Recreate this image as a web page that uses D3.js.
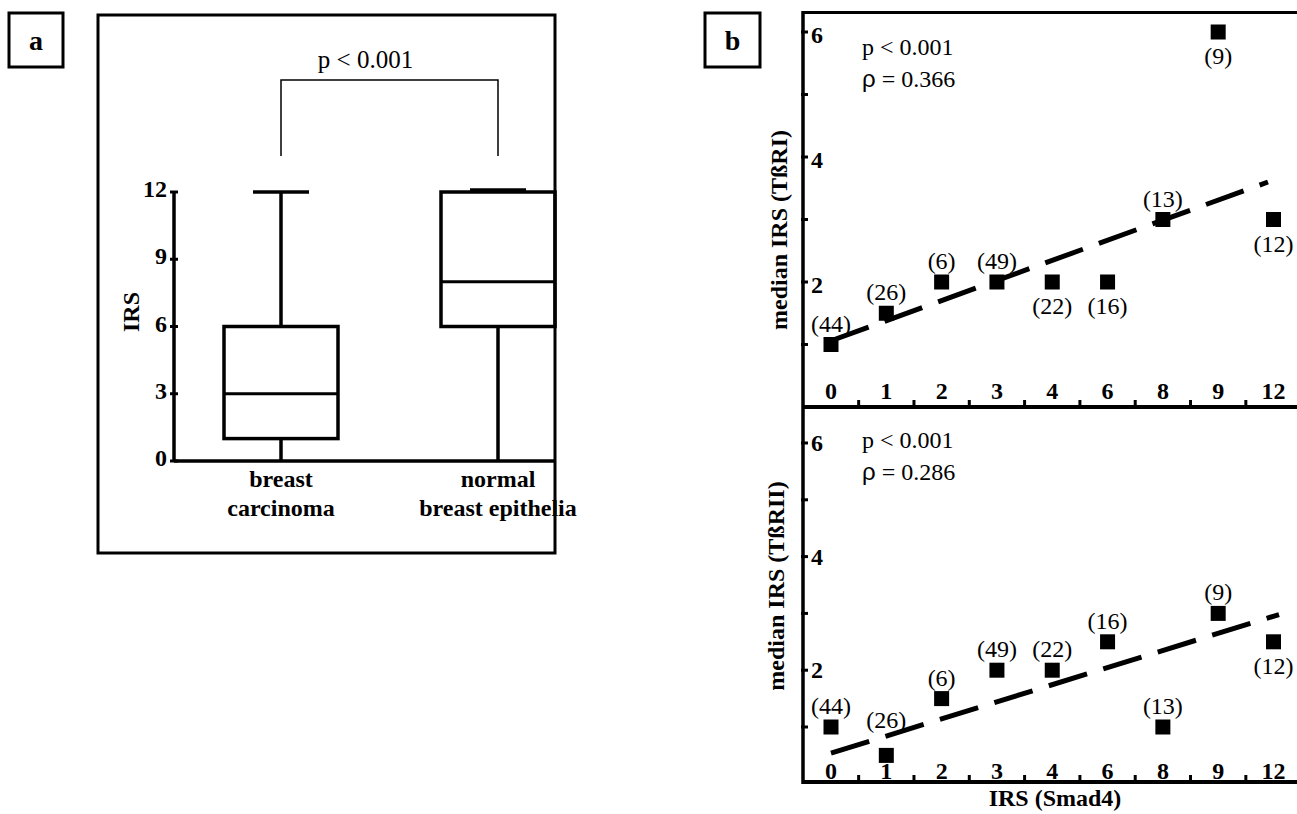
<!DOCTYPE html>
<html>
<head>
<meta charset="utf-8">
<script src="https://cdn.jsdelivr.net/npm/d3@7"></script>
<style>
  body { margin: 0; background: #fff; }
  svg text { font-family: "Liberation Serif", "Times New Roman", serif; fill: #000; }
</style>
</head>
<body>
<div id="chart"></div>
<script>
// panel a: box plot of IRS
const groups = ["breast carcinoma", "normal breast epithelia"];
const groupLines = [["breast", "carcinoma"], ["normal", "breast epithelia"]];
const boxMin = [0, 0];
const boxQ1 = [1, 6];
const boxMedian = [3, 8];
const boxQ3 = [6, 12];
const boxMax = [12, 12];
const irsTicks = [0, 3, 6, 9, 12];

// panel b: median IRS of TBRI / TBRII by Smad4 IRS
const smadLevels = ["0", "1", "2", "3", "4", "6", "8", "9", "12"];
const caseCounts = [44, 26, 6, 49, 22, 16, 13, 9, 12];
const tbr1Median = [1, 1.5, 2, 2, 2, 2, 3, 6, 3];
const tbr2Median = [1, 0.5, 1.5, 2, 2, 2.5, 1, 3, 2.5];
const tbr1LabelSide = ["above", "above", "above", "above", "below", "below", "above", "below", "below"];
const tbr2LabelSide = ["above", "high", "above", "above", "above", "above", "above", "above", "below"];
// regression lines, x in category index units
const tbr1Fit = [[0, 1.06], [7.9, 3.6]];
const tbr2Fit = [[0, 0.54], [8.1, 2.98]];
const medianTicks = [1, 2, 3, 4, 5, 6];
const medianTickLabels = [2, 4, 6];

const W = 1297, H = 814;
const svg = d3.select("#chart").append("svg")
    .attr("width", W)
    .attr("height", H);

function labelBox(x, y, w, h, txt) {
    svg.append("rect")
        .attr("x", x).attr("y", y).attr("width", w).attr("height", h)
        .attr("fill", "none").attr("stroke", "#000").attr("stroke-width", 3);
    svg.append("text")
        .attr("x", x + w / 2).attr("y", y + h / 2 + 10)
        .attr("text-anchor", "middle")
        .attr("font-size", 28).attr("font-weight", "bold")
        .text(txt);
}

// ---------- panel a ----------
labelBox(9, 13, 54, 54, "a");

svg.append("rect")
    .attr("x", 98).attr("y", 15).attr("width", 457).attr("height", 538)
    .attr("fill", "none").attr("stroke", "#000").attr("stroke-width", 3);

const ya = d3.scaleLinear().domain([0, 12]).range([461, 192]);
const xa = d3.scalePoint().domain(groups).range([281, 498]);
const halfBox = 57, halfCap = 28;

const gA = svg.append("g");

// y axis
gA.append("line")
    .attr("x1", 174).attr("x2", 174)
    .attr("y1", ya(12)).attr("y2", ya(0))
    .attr("stroke", "#000").attr("stroke-width", 3.5);
gA.selectAll(".ytick").data(irsTicks).enter().append("line")
    .attr("x1", 170).attr("x2", 178)
    .attr("y1", d => ya(d)).attr("y2", d => ya(d))
    .attr("stroke", "#000").attr("stroke-width", 3);
gA.selectAll(".ylab").data(irsTicks).enter().append("text")
    .attr("x", 167).attr("y", d => ya(d) + 5)
    .attr("text-anchor", "end")
    .attr("font-size", 24).attr("font-weight", "bold")
    .text(d => d);
// x axis line
gA.append("line")
    .attr("x1", 174).attr("x2", 555)
    .attr("y1", ya(0)).attr("y2", ya(0))
    .attr("stroke", "#000").attr("stroke-width", 3.5);

gA.append("text")
    .attr("transform", `translate(139,312) rotate(-90)`)
    .attr("text-anchor", "middle")
    .attr("font-size", 24).attr("font-weight", "bold")
    .text("IRS");

const boxes = gA.selectAll(".box").data(groups).enter().append("g");
boxes.append("line")
    .attr("x1", d => xa(d)).attr("x2", d => xa(d))
    .attr("y1", (d, i) => ya(boxMax[i])).attr("y2", (d, i) => ya(boxQ3[i]))
    .attr("stroke", "#000").attr("stroke-width", 3.5);
boxes.append("line")
    .attr("x1", d => xa(d)).attr("x2", d => xa(d))
    .attr("y1", (d, i) => ya(boxQ1[i])).attr("y2", (d, i) => ya(boxMin[i]))
    .attr("stroke", "#000").attr("stroke-width", 3.5);
boxes.append("rect")
    .attr("x", d => xa(d) - halfBox)
    .attr("y", (d, i) => ya(boxQ3[i]))
    .attr("width", halfBox * 2)
    .attr("height", (d, i) => ya(boxQ1[i]) - ya(boxQ3[i]))
    .attr("fill", "none").attr("stroke", "#000").attr("stroke-width", 3.5);
boxes.append("line")
    .attr("x1", d => xa(d) - halfBox).attr("x2", d => xa(d) + halfBox)
    .attr("y1", (d, i) => ya(boxMedian[i])).attr("y2", (d, i) => ya(boxMedian[i]))
    .attr("stroke", "#000").attr("stroke-width", 3);
boxes.append("line")
    .attr("x1", d => xa(d) - halfCap).attr("x2", d => xa(d) + halfCap)
    .attr("y1", (d, i) => ya(boxMax[i]) - (boxMax[i] === boxQ3[i] ? 2 : 0))
    .attr("y2", (d, i) => ya(boxMax[i]) - (boxMax[i] === boxQ3[i] ? 2 : 0))
    .attr("stroke", "#000").attr("stroke-width", 3.5);
boxes.append("line")
    .attr("x1", d => xa(d) - halfCap).attr("x2", d => xa(d) + halfCap)
    .attr("y1", (d, i) => ya(boxMin[i])).attr("y2", (d, i) => ya(boxMin[i]))
    .attr("stroke", "#000").attr("stroke-width", 2);

boxes.each(function(d, i) {
    const t = d3.select(this).append("text")
        .attr("text-anchor", "middle")
        .attr("font-size", 24).attr("font-weight", "bold");
    groupLines[i].forEach((ln, j) => {
        t.append("tspan").attr("x", xa(d)).attr("y", 487 + j * 29).text(ln);
    });
});

// significance bracket
gA.append("path")
    .attr("d", `M${xa(groups[0])},156 V80 H${xa(groups[1])} V156`)
    .attr("fill", "none").attr("stroke", "#000").attr("stroke-width", 1.5);
gA.append("text")
    .attr("x", (xa(groups[0]) + xa(groups[1])) / 2 - 24).attr("y", 68)
    .attr("text-anchor", "middle")
    .attr("font-size", 25)
    .text("p < 0.001");

// ---------- panel b ----------
labelBox(705, 13, 55, 54, "b");

const xb = d3.scalePoint().domain(smadLevels).range([831, 1273.5]);
const xIdx = d3.scaleLinear().domain([0, smadLevels.length - 1]).range([831, 1273.5]);
const axisX = 803;
const rightX = 1297;

const panels = [
    { y: d3.scaleLinear().domain([0, 6]).range([407, 32]), axisY: 407, vals: tbr1Median, side: tbr1LabelSide,
      fit: tbr1Fit, rho: "0.366", title: "median IRS (TßRI)", titleX: 787, titleY: 230,
      textY: 55, tickDy: 11, labDy: 8 },
    { y: d3.scaleLinear().domain([0, 6]).range([783.8, 443]), axisY: 782, vals: tbr2Median, side: tbr2LabelSide,
      fit: tbr2Fit, rho: "0.286", title: "median IRS (TßRII)", titleX: 784, titleY: 586,
      textY: 448, tickDy: 8, labDy: 3 }
];

const gB = svg.append("g");

// outer lines
gB.append("line")
    .attr("x1", axisX).attr("x2", axisX).attr("y1", 11).attr("y2", 784)
    .attr("stroke", "#000").attr("stroke-width", 3.5);
gB.append("line")
    .attr("x1", axisX).attr("x2", rightX).attr("y1", 12.5).attr("y2", 12.5)
    .attr("stroke", "#000").attr("stroke-width", 3);

panels.forEach(p => {
    const g = gB.append("g");

    g.append("line")
        .attr("x1", axisX).attr("x2", rightX).attr("y1", p.axisY).attr("y2", p.axisY)
        .attr("stroke", "#000").attr("stroke-width", 4);

    // minor ticks between categories
    const mids = smadLevels.slice(1).map((d, i) => (xb(smadLevels[i]) + xb(d)) / 2);
    g.selectAll(".xt").data(mids).enter().append("line")
        .attr("x1", d => d).attr("x2", d => d)
        .attr("y1", p.axisY).attr("y2", p.axisY - 7)
        .attr("stroke", "#000").attr("stroke-width", 3);
    g.selectAll(".xl").data(smadLevels).enter().append("text")
        .attr("x", d => xb(d)).attr("y", p.axisY - p.labDy)
        .attr("text-anchor", "middle")
        .attr("font-size", 24).attr("font-weight", "bold")
        .text(d => d);

    // y ticks
    g.selectAll(".yt").data(medianTicks).enter().append("line")
        .attr("x1", axisX - 2).attr("x2", axisX + 5)
        .attr("y1", d => p.y(d)).attr("y2", d => p.y(d))
        .attr("stroke", "#000").attr("stroke-width", 3);
    g.selectAll(".yl").data(medianTickLabels).enter().append("text")
        .attr("x", 811).attr("y", d => p.y(d) + p.tickDy)
        .attr("font-size", 24).attr("font-weight", "bold")
        .text(d => d);

    // regression line
    g.append("line")
        .attr("x1", xIdx(p.fit[0][0])).attr("y1", p.y(p.fit[0][1]))
        .attr("x2", xIdx(p.fit[1][0])).attr("y2", p.y(p.fit[1][1]))
        .attr("stroke", "#000").attr("stroke-width", 5)
        .attr("stroke-dasharray", "40,17");

    // points
    g.selectAll(".pt").data(smadLevels).enter().append("rect")
        .attr("x", d => xb(d) - 7.5)
        .attr("y", (d, i) => p.y(p.vals[i]) - 7.5)
        .attr("width", 15).attr("height", 15)
        .attr("fill", "#000");
    g.selectAll(".nl").data(smadLevels).enter().append("text")
        .attr("x", d => xb(d))
        .attr("y", (d, i) => {
            const cy = p.y(p.vals[i]);
            if (p.side[i] === "below") return cy + 32;
            if (p.side[i] === "high") return cy - 27;
            return cy - 13;
        })
        .attr("text-anchor", "middle")
        .attr("font-size", 24)
        .text((d, i) => `(${caseCounts[i]})`);

    // stats text
    g.append("text")
        .attr("x", 862).attr("y", p.textY)
        .attr("font-size", 24)
        .text("p < 0.001");
    const r = g.append("text")
        .attr("x", 862).attr("y", p.textY + 32)
        .attr("font-size", 24);
    r.append("tspan").style("font-family", "'Liberation Sans', Arial, sans-serif").text("ρ");
    r.append("tspan").text(" = " + p.rho);

    // axis title
    g.append("text")
        .attr("transform", `translate(${p.titleX},${p.titleY}) rotate(-90)`)
        .attr("text-anchor", "middle")
        .attr("font-size", 24).attr("font-weight", "bold")
        .text(p.title);
});

gB.append("text")
    .attr("x", 1055).attr("y", 806)
    .attr("text-anchor", "middle")
    .attr("font-size", 24).attr("font-weight", "bold")
    .text("IRS (Smad4)");
</script>
</body>
</html>
